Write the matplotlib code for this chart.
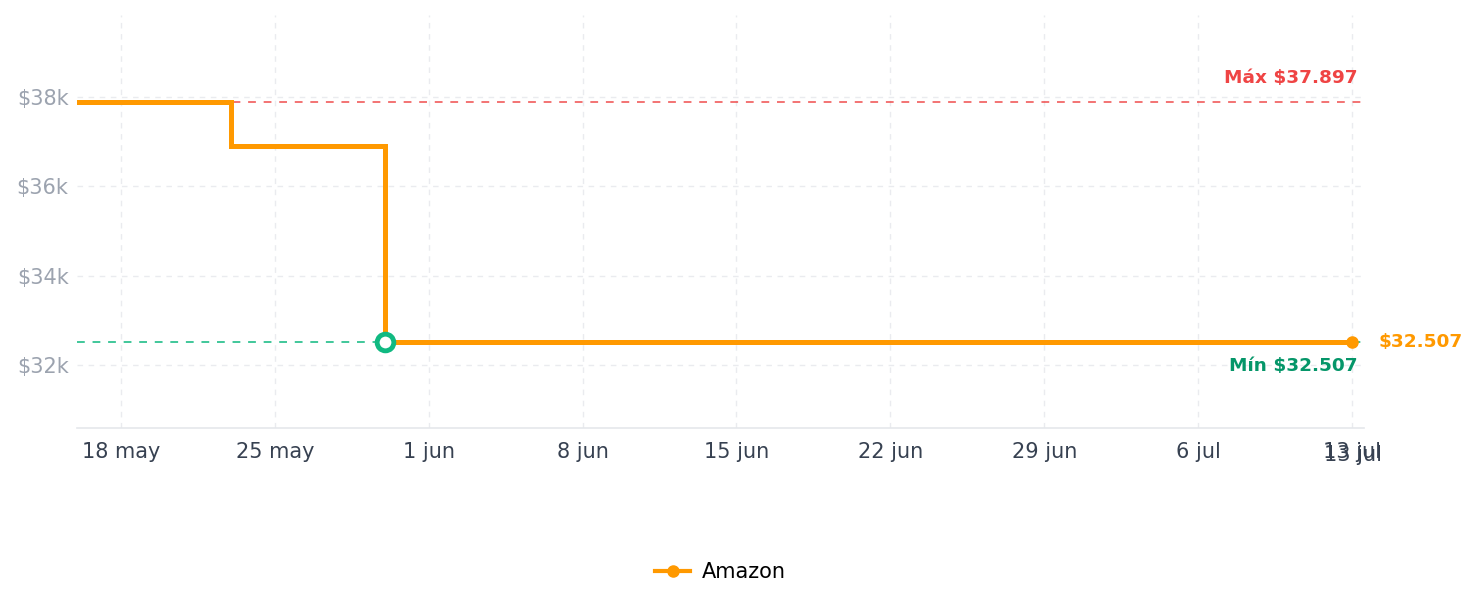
import numpy as np
import pandas as pd
import matplotlib
matplotlib.use("Agg")
import matplotlib.pyplot as plt
import matplotlib.dates as mdates

# price history (step changes)
dates = pd.to_datetime(["2025-05-16", "2025-05-23", "2025-05-30", "2025-07-13"])
prices = [37897, 36897, 32507, 32507]
store = "Amazon"
tick_dates = pd.to_datetime(["2025-05-18", "2025-05-25", "2025-06-01", "2025-06-08",
                             "2025-06-15", "2025-06-22", "2025-06-29", "2025-07-06",
                             "2025-07-13"])
tick_labels = ["18 may", "25 may", "1 jun", "8 jun", "15 jun", "22 jun", "29 jun",
               "6 jul", "13 jul"]
y_ticks = [32000, 34000, 36000, 38000]
y_labels = ["$32k", "$34k", "$36k", "$38k"]

orange = "#ff9900"
red = "#ef4444"
green = "#10b981"
dark_green = "#059669"

pmax = max(prices)
pmin = min(prices)
imin = prices.index(pmin)

fig = plt.figure(figsize=(14.79, 6.07), dpi=100)
ax = fig.add_axes([0.052, 0.295, 0.8702, 0.6803])

ax.axhline(pmax, color=red, alpha=0.75, lw=1.4, ls=(0, (4, 4)), zorder=2)
ax.axhline(pmin, color=green, alpha=0.8, lw=1.4, ls=(0, (4, 4)), zorder=2)

ax.plot(dates, prices, drawstyle="steps-post", color=orange, lw=3.6, zorder=3,
        solid_joinstyle="miter", label=store)
ax.plot(dates[-1:], prices[-1:], "o", color=orange, ms=8, zorder=4)
ax.plot(dates[imin:imin + 1], prices[imin:imin + 1], "o", mfc="white", mec=green,
        mew=3.5, ms=12, zorder=5)

x0 = dates[0]
x1 = dates[-1] + pd.Timedelta(hours=13)
ax.set_xlim(x0, x1)
ax.set_ylim(30584, 39843)

ax.set_xticks(tick_dates)
ax.set_xticklabels(tick_labels)
ax.set_yticks(y_ticks)
ax.set_yticklabels(y_labels)
ax.tick_params(axis="x", colors="#374151", labelsize=15, length=0, pad=10)
ax.tick_params(axis="y", colors="#9ca3af", labelsize=15, length=0, pad=6)
for lbl in ax.get_xticklabels():
    lbl.set_color("#374151")

ax.grid(True, color="#e5e7eb", ls=(0, (4, 4)), lw=1, alpha=0.8)
ax.set_axisbelow(True)
for s in ["top", "right", "left"]:
    ax.spines[s].set_visible(False)
ax.spines["bottom"].set_color("#e5e7eb")
ax.spines["bottom"].set_linewidth(1.2)

# duplicated end label, drawn a few pixels below the tick label
ax.text(dates[-1] + pd.Timedelta(hours=1.5), -0.041, tick_labels[-1],
        transform=ax.get_xaxis_transform(),
        ha="center", va="top", fontsize=15, color="#374151")

ax.text(0.9953, pmax + 530, f"Máx ${pmax/1000:.3f}", transform=ax.get_yaxis_transform(),
        ha="right", va="center", color=red, fontsize=13.3, fontweight="bold")
ax.text(0.9953, pmin - 540, f"Mín ${pmin/1000:.3f}", transform=ax.get_yaxis_transform(),
        ha="right", va="center", color=dark_green, fontsize=13.3, fontweight="bold")
ax.text(1.0117, prices[-1], f"${prices[-1]/1000:.3f}", transform=ax.get_yaxis_transform(),
        ha="left", va="center", color=orange, fontsize=13.3, fontweight="bold")

handle = plt.Line2D([], [], color=orange, lw=3, marker="o", ms=8)
fig.legend([handle], [store], loc="center", bbox_to_anchor=(0.487, 0.057), frameon=False,
           fontsize=15, handlelength=1.7, handletextpad=0.55)

fig.savefig("out.png", dpi=100)
